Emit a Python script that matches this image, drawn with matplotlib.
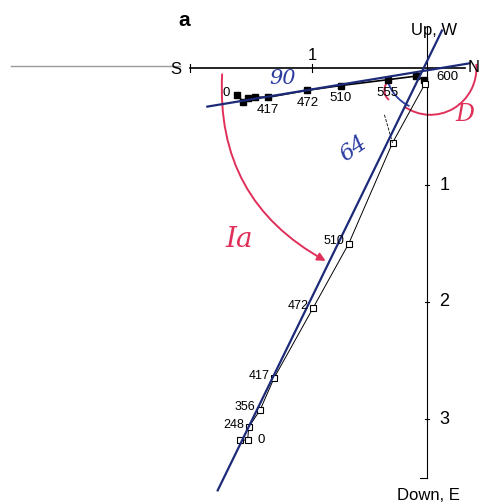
import numpy as np
import matplotlib.pyplot as plt
from matplotlib.patches import Arc, FancyArrowPatch

plt.rcParams['font.family'] = ['Liberation Sans', 'DejaVu Sans']

# horizontal projection (filled): north vs east, step labels in degC
h_n = [-1.65, -1.60, -1.56, -1.50, -1.38, -1.04, -0.75, -0.34, -0.10, -0.03]
h_e = [0.23, 0.29, 0.26, 0.25, 0.25, 0.19, 0.15, 0.10, 0.07, 0.10]
h_lab = ["0", "", "", "", "417", "472", "510", "555", "", "600"]

# vertical projection (open): north vs down
v_n = [-1.63, -1.56, -1.55, -1.45, -1.33, -0.99, -0.68, -0.30, -0.02]
v_d = [3.18, 3.18, 3.07, 2.92, 2.65, 2.05, 1.50, 0.64, 0.14]
v_lab = ["", "0", "248", "356", "417", "472", "510", "", ""]

# pen lines drawn over the plot
h_pen_n = [-1.91, 0.37]
h_pen_e = [0.33, -0.04]
v_pen_n = [-1.82, 0.13]
v_pen_d = [3.61, -0.32]

ticks = [1, 2, 3]

red = "#e0305a"
blue = "#2a3ca0"

fig = plt.figure(figsize=(4.79, 5.04), dpi=100)
ax = fig.add_axes([0, 0, 1, 1])
ax.set_xlim(-427 / 115, 52 / 115)
ax.set_ylim(436 / 117, -68 / 117)
ax.axis("off")

# axes of the diagram
ax.plot([-3.62, -2.15], [-0.02, -0.02], color="#999999", lw=1.0)
ax.plot([-2.06, 0.33], [0, 0], color="black", lw=1.2)
ax.plot([0, 0], [-0.36, 3.5], color="black", lw=0.8)
ax.plot([-1, -1], [-0.03, 0.03], color="black", lw=0.8)
ax.plot([-2.06, -2.06], [-0.03, 0.03], color="black", lw=0.8)
for t in ticks:
    ax.plot([-0.02, 0.02], [t, t], color="black", lw=0.8)
    ax.text(0.15, t, str(t), fontsize=13, va="center", ha="center")
ax.plot([-0.06, 0], [3.5, 3.5], color="black", lw=0.8)
ax.text(-1.0, -0.11, "1", fontsize=12, ha="center", va="center")
ax.text(-2.14, 0.01, "S", fontsize=12, ha="right", va="center")
ax.text(0.35, 0.0, "N", fontsize=12, ha="left", va="center")
ax.text(0.06, -0.32, "Up, W", fontsize=12, ha="center", va="center")
ax.text(0.01, 3.65, "Down, E", fontsize=12, ha="center", va="center")
ax.text(-2.11, -0.41, "a", fontsize=15, fontweight="bold", ha="center", va="center")

# data
ax.plot(h_n, h_e, color="black", lw=1.2)
ax.plot(h_n, h_e, "s", color="black", ms=5)
ax.plot(v_n, v_d, color="black", lw=0.7)
ax.plot(v_n, v_d, "s", mfc="white", mec="black", ms=4.5, mew=0.8)

for n, e, s in zip(h_n, h_e, h_lab):
    if s == "0":
        ax.text(n - 0.1, e - 0.02, s, fontsize=9.5, ha="center", va="center")
    elif s == "600":
        ax.text(n + 0.21, e - 0.02, s, fontsize=9.5, ha="center", va="center")
    elif s:
        ax.text(n, e + 0.11, s, fontsize=9.5, ha="center", va="center")
for n, d, s in zip(v_n, v_d, v_lab):
    if s == "0":
        ax.text(n + 0.12, d, s, fontsize=9.5, ha="center", va="center")
    elif s:
        ax.text(n - 0.04, d - 0.02, s, fontsize=9, ha="right", va="center")
ax.plot([-0.37, -0.3], [0.4, 0.64], color="black", lw=0.6, ls="--")

# pen lines and marks
ax.plot(h_pen_n, h_pen_e, color="#1c2a78", lw=1.6)
ax.plot(v_pen_n, v_pen_d, color="#1c2a78", lw=1.6)
ax.text(-1.26, 0.09, "90", fontsize=15, color=blue, family="DejaVu Serif",
        style="italic", ha="center", va="center")
ax.text(-0.64, 0.69, "64", fontsize=16, color=blue, family="DejaVu Serif",
        style="italic", ha="center", va="center", rotation=35)
ax.add_patch(Arc((0, 0), 0.72, 0.72, theta1=115, theta2=164, color=blue, lw=1.3))
ax.add_patch(Arc((0.03, 0.0), 0.8, 0.8, theta1=-5, theta2=125, color=red, lw=1.4))
ax.add_patch(Arc((-0.3, 0.19), 0.14, 0.18, theta1=110, theta2=250, color=red, lw=1.4))
ax.text(0.33, 0.4, "D", fontsize=17, color=red, family="DejaVu Serif",
        style="italic", ha="center", va="center")
ax.text(-1.63, 1.47, "Ia", fontsize=20, color=red, family="DejaVu Serif",
        style="italic", ha="center", va="center")
ax.add_patch(FancyArrowPatch((-1.78, 0.03), (-0.86, 1.66),
                             connectionstyle="arc3,rad=0.32", arrowstyle="-|>",
                             mutation_scale=12, color=red, lw=1.4))

fig.savefig("out.png", dpi=100)
